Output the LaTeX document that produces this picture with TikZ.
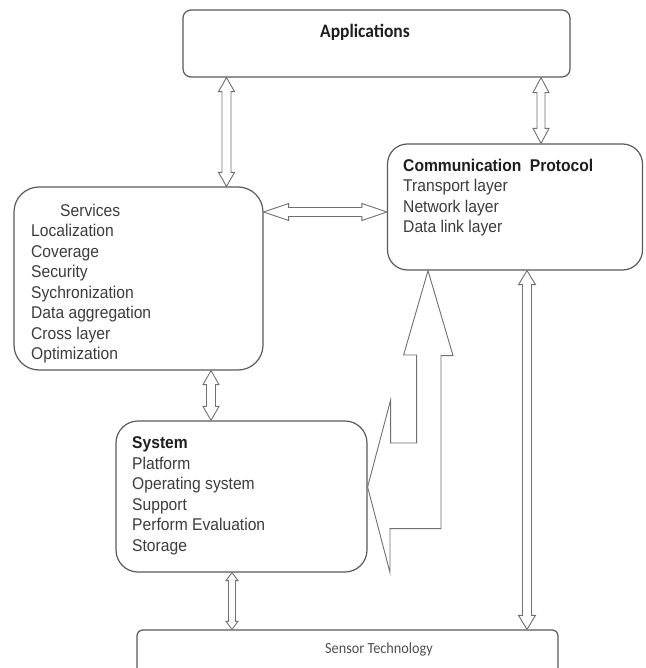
\documentclass[tikz,border=0pt]{standalone}
\usepackage{fontspec}
\usetikzlibrary{calc}
\newfontfamily\arialf[FakeStretch=0.92]{Liberation Sans}
\newfontfamily\calf[FakeStretch=0.92]{Carlito}
\definecolor{boxline}{HTML}{5A5A5A}
\definecolor{arrline}{HTML}{707070}
\definecolor{txt}{HTML}{3C3C3C}
\definecolor{headtxt}{HTML}{1E1E1E}
\definecolor{senstxt}{HTML}{505050}
\tikzset{
  box/.style={draw=boxline, line width=1.2pt, fill=white, inner sep=0pt},
  arr/.style={draw=arrline, line width=0.9pt, fill=white, line join=miter},
  bodytxt/.style={anchor=north west, inner sep=0pt, align=left, text=txt,
    font=\arialf\fontsize{17}{20.5}\selectfont}
}
% vertical double arrow: #1 top, #2 bottom, #3 head length, #4 head half width, #5 shaft half width
\newcommand\vdbl[5]{%
  \draw[arr] let \p1=(#1), \p2=(#2) in
    (\x1,\y1) -- (\x1+#4pt,\y1-#3pt) -- (\x1+#5pt,\y1-#3pt) -- (\x1+#5pt,\y2+#3pt)
    -- (\x1+#4pt,\y2+#3pt) -- (\x1,\y2) -- (\x1-#4pt,\y2+#3pt) -- (\x1-#5pt,\y2+#3pt)
    -- (\x1-#5pt,\y1-#3pt) -- (\x1-#4pt,\y1-#3pt) -- cycle;}
% horizontal double arrow: #1 left, #2 right
\newcommand\hdbl[5]{%
  \draw[arr] let \p1=(#1), \p2=(#2) in
    (\x1,\y1) -- (\x1+#3pt,\y1+#4pt) -- (\x1+#3pt,\y1+#5pt) -- (\x2-#3pt,\y1+#5pt)
    -- (\x2-#3pt,\y1+#4pt) -- (\x2,\y1) -- (\x2-#3pt,\y1-#4pt) -- (\x2-#3pt,\y1-#5pt)
    -- (\x1+#3pt,\y1-#5pt) -- (\x1+#3pt,\y1-#4pt) -- cycle;}
\begin{document}
\begin{tikzpicture}[x=1pt,y=-1pt]
\useasboundingbox (0,0) rectangle (645,668);
\clip (0,0) rectangle (645,668);
\fill[white] (0,0) rectangle (645,668);

% boxes
\node[box, rounded corners=8pt, minimum width=387pt, minimum height=67pt] (app) at (376.5,43.5) {};
\node[box, rounded corners=25pt, minimum width=249pt, minimum height=183pt] (serv) at (138.5,278.5) {};
\node[box, rounded corners=20pt, minimum width=255pt, minimum height=126pt] (comm) at (515,207) {};
\node[box, rounded corners=22pt, minimum width=251pt, minimum height=151pt] (sys) at (241.5,496.5) {};
\node[box, rounded corners=6pt, minimum width=421pt, minimum height=80pt] (sens) at (347.5,670) {};

% texts
\node[anchor=base, inner sep=0pt, text=headtxt, font=\calf\bfseries\fontsize{19}{22}\selectfont] (apptxt) at (365,38) {Applications};
\node[anchor=base, inner sep=0pt, text=senstxt, font=\calf\fontsize{15.5}{18}\selectfont] (senstext) at (379,653) {Sensor Technology};
\node[bodytxt] (servtxt) at (31,203.7) {\hspace*{29pt}Services\\Localization\\Coverage\\Security\\Sychronization\\Data aggregation\\Cross layer\\Optimization};
\node[bodytxt] (commtxt) at (403,158.7) {{\bfseries\color{headtxt}Communication\hspace{0.5em}Protocol}\\Transport layer\\Network layer\\Data link layer};
\node[bodytxt] (systxt) at (132,436.7) {{\bfseries\color{headtxt}System}\\Platform\\Operating system\\Support\\Perform Evaluation\\Storage};

% connector end points
\coordinate (a1t) at (226.5,0 |- app.south);
\coordinate (a1b) at (226.5,0 |- serv.north);
\coordinate (a2t) at (541,0 |- app.south);
\coordinate (a2b) at (541,0 |- comm.north);
\coordinate (a3t) at (211,0 |- serv.south);
\coordinate (a3b) at (211,0 |- sys.north);
\coordinate (a4t) at (232,0 |- sys.south);
\coordinate (a4b) at (232,0 |- sens.north);
\coordinate (a5t) at (527,0 |- comm.south);
\coordinate (a5b) at (527,0 |- sens.north);
\coordinate (h1l) at (serv.east |- 0,212);
\coordinate (h1r) at (comm.west |- 0,212);

\vdbl{a1t}{a1b}{14}{8}{4.5}
\vdbl{a2t}{a2b}{15}{8}{4}
\vdbl{a3t}{a3b}{14}{8}{4.5}
\vdbl{a4t}{a4b}{8}{6}{3.5}
\vdbl{a5t}{a5b}{14}{8.5}{4.5}
\hdbl{h1l}{h1r}{25}{8.5}{4.5}

% big bent arrow between system and communication protocol
\coordinate (bt) at (428,0 |- comm.south);
\coordinate (bl) at (sys.east |- 0,487);
\draw[arr] (bt) -- ++(25,85) -- ++(-12,0) -- ++(0,173) -- ++(-51,0) -- ++(0,44)
  -- (bl) -- ++(23,-87) -- ++(0,43) -- ++(26,0) -- ++(0,-88) -- ++(-13,0) -- cycle;
\end{tikzpicture}
\end{document}
